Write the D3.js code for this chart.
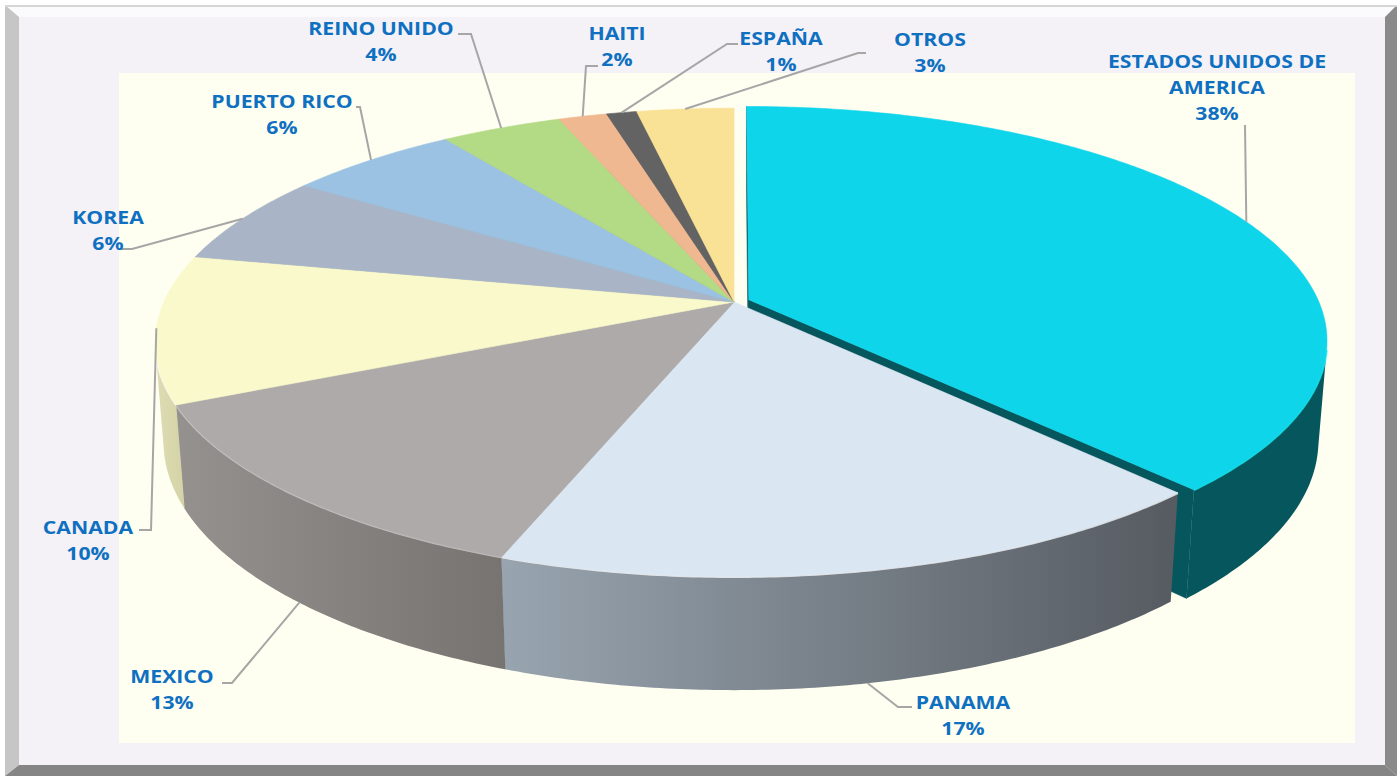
<!DOCTYPE html>
<html>
<head>
<meta charset="utf-8">
<script src="https://cdn.jsdelivr.net/npm/d3@7"></script>
<style>
  html, body { margin: 0; padding: 0; background: #fff; }
  svg { display: block; }
  .lbl { font-family: "Open Sans", sans-serif; font-weight: 700; font-size: 18px; fill: #0f70c1; }
</style>
</head>
<body>
<div id="chart"></div>
<script>
// DATA
const countries = ["ESTADOS UNIDOS DE AMERICA", "PANAMA", "MEXICO", "CANADA", "KOREA",
                   "PUERTO RICO", "REINO UNIDO", "HAITI", "ESPAÑA", "OTROS"];
const shares = [38.1, 17.45, 12.55, 10.2, 6.2, 5.7, 4.0, 1.6, 1.0, 3.2];

// STYLES
const topColors = ["#0fd5eb", "#dae6f2", "#aeaaa9", "#f9f9cc", "#a9b5c6",
                   "#9bc2e3", "#b3da84", "#f0b890", "#636363", "#f9e196"];
const sideColors = [["#06565d", "#06565d"], ["#98a4af", "#565b61"], ["#95918f", "#777371"],
                    ["#dedcb3", "#d4d2a6"], ["#8b95a5", "#7a8494"], ["#7fa3c2", "#6f93b2"],
                    ["#93b96a", "#83a95a"], ["#cf9a74", "#bf8a64"], ["#4a4a4a", "#3a3a3a"],
                    ["#d8c07a", "#c8b06a"]];

// label placement (text centre / first baseline, leader elbow and end)
const labelLayout = [
  {x: 1217, y: 68,  ex: 1245, ey: 125, hx: 1245},
  {x: 963,  y: 709, ex: 898,  ey: 707, hx: 912},
  {x: 172,  y: 683, ex: 232,  ey: 683, hx: 222},
  {x: 88,   y: 534, ex: 151,  ey: 530, hx: 139},
  {x: 108,  y: 224, ex: 132,  ey: 249, hx: 121},
  {x: 282,  y: 108, ex: 360,  ey: 107, hx: 356},
  {x: 381,  y: 35,  ex: 471,  ey: 34,  hx: 458},
  {x: 617,  y: 40,  ex: 586,  ey: 66,  hx: 598},
  {x: 781,  y: 45,  ex: 727,  ey: 44,  hx: 738},
  {x: 930,  y: 46,  ex: 858,  ey: 53,  hx: 866}
];

const svgWidth = 1400, svgHeight = 776;

// 3D view of the pie (radius = 1 in world units)
const view = {cx: 734, cy: 302, dist: 5.31, tilt: 23.5 * Math.PI / 180, focal: 3027, depth: 0.19, explode: 0.028};
const ct = Math.cos(view.tilt), st = Math.sin(view.tilt);
const cam = [0, view.dist * st, view.dist * ct];

function project(X, Y, Z) {
  const u = Y * ct - Z * st;
  const d = view.dist - (Z * ct + Y * st);
  return [view.cx + view.focal * X / d, view.cy - view.focal * u / d];
}

const svg = d3.select("#chart")
  .append("svg")
  .attr("width", svgWidth)
  .attr("height", svgHeight);

const defs = svg.append("defs");

// Frame
const fo = {l: 5, t: 5, r: 1397, b: 776};
const fi = {l: 19, t: 17, r: 1385, b: 765};
const poly = pts => pts.map(p => p.join(",")).join(" ");

svg.append("polygon").attr("points", poly([[fo.l, fo.t], [fo.r, fo.t], [fi.r, fi.t], [fi.l, fi.t]])).attr("fill", "#fbfafc");
svg.append("polygon").attr("points", poly([[fo.l, fo.t], [fi.l, fi.t], [fi.l, fi.b], [fo.l, fo.b]])).attr("fill", "#c6c6c6");
svg.append("polygon").attr("points", poly([[fo.r, fo.t], [fo.r, fo.b], [fi.r, fi.b], [fi.r, fi.t]])).attr("fill", "#8a8a8a");
svg.append("polygon").attr("points", poly([[fo.l, fo.b], [fi.l, fi.b], [fi.r, fi.b], [fo.r, fo.b]])).attr("fill", "#858585");
svg.append("line").attr("x1", fo.l).attr("x2", fo.r).attr("y1", 6).attr("y2", 6)
  .attr("stroke", "#d6d6d6").attr("stroke-width", 2);
svg.append("rect").attr("x", fi.l).attr("y", fi.t).attr("width", fi.r - fi.l).attr("height", fi.b - fi.t).attr("fill", "#f4f2f6");

// Plot area
svg.append("rect").attr("x", 119).attr("y", 73).attr("width", 1236).attr("height", 670).attr("fill", "#fefef1");

// Pie geometry
const pie = d3.pie().sort(null).value(d => d);
const arcs = pie(shares);
const total = d3.sum(shares);
const pct = d3.format(".0%");
const line = d3.line();

const slices = arcs.map((a, i) => {
  const mid = (a.startAngle + a.endAngle) / 2;
  const e = i === 0 ? view.explode : 0;
  return {i, a0: a.startAngle, a1: a.endAngle, mid, ox: e * Math.sin(mid), oz: -e * Math.cos(mid)};
});

const rim = (s, a, Y) => project(s.ox + Math.sin(a), Y, s.oz - Math.cos(a));
const centre = (s, Y) => project(s.ox, Y, s.oz);

function arcAngles(a0, a1) {
  const n = Math.max(2, Math.ceil((a1 - a0) / 0.01));
  return d3.range(n + 1).map(k => a0 + (a1 - a0) * k / n);
}

function sideVisible(s, a) {
  const P = [s.ox + Math.sin(a), 0, s.oz - Math.cos(a)];
  const N = [Math.sin(a), 0, -Math.cos(a)];
  return N[0] * (cam[0] - P[0]) + N[2] * (cam[2] - P[2]) > 0;
}

function wallVisible(s, N) {
  return N[0] * (cam[0] - s.ox) + N[1] * cam[1] + N[2] * (cam[2] - s.oz) > 0;
}

const pieGroup = svg.append("g");

// Sides and walls, back to front
const sideOrder = slices.slice().sort((p, q) => (-Math.cos(p.mid)) - (-Math.cos(q.mid)));
sideOrder.forEach(s => {
  const [c0, c1] = sideColors[s.i];
  const gid = "side" + s.i;
  const g = defs.append("linearGradient").attr("id", gid).attr("x1", 0).attr("x2", 1).attr("y1", 0).attr("y2", 0);
  g.append("stop").attr("offset", "0%").attr("stop-color", c0);
  g.append("stop").attr("offset", "100%").attr("stop-color", c1);

  const H = -view.depth;
  // walls
  const nStart = [-Math.cos(s.a0), 0, -Math.sin(s.a0)];
  const nEnd = [Math.cos(s.a1), 0, Math.sin(s.a1)];
  [[s.a0, nStart], [s.a1, nEnd]].forEach(([a, N]) => {
    if (!wallVisible(s, N)) return;
    pieGroup.append("path")
      .attr("d", line([centre(s, 0), rim(s, a, 0), rim(s, a, H), centre(s, H)]) + "Z")
      .attr("fill", c1).attr("stroke", c1).attr("stroke-width", 0.5);
  });

  // curved outer side, split into visible runs
  const angs = arcAngles(s.a0, s.a1);
  let run = [];
  const runs = [];
  for (let k = 0; k < angs.length - 1; k++) {
    if (sideVisible(s, (angs[k] + angs[k + 1]) / 2)) {
      if (!run.length) run.push(angs[k]);
      run.push(angs[k + 1]);
    } else if (run.length) { runs.push(run); run = []; }
  }
  if (run.length) runs.push(run);
  runs.forEach(r => {
    const pts = r.map(a => rim(s, a, 0)).concat(r.slice().reverse().map(a => rim(s, a, H)));
    pieGroup.append("path")
      .attr("d", line(pts) + "Z")
      .attr("fill", `url(#${gid})`);
    // bevel highlight along the top rim
    pieGroup.append("path")
      .attr("d", line(r.map(a => rim(s, a, 0))))
      .attr("fill", "none")
      .attr("stroke", d3.color(topColors[s.i]).brighter(0.6))
      .attr("stroke-opacity", 0.75)
      .attr("stroke-width", 2.5);
  });
});

// Top faces
slices.forEach(s => {
  const pts = [centre(s, 0)].concat(arcAngles(s.a0, s.a1).map(a => rim(s, a, 0)));
  pieGroup.append("path")
    .attr("d", line(pts) + "Z")
    .attr("fill", topColors[s.i])
    .attr("stroke", topColors[s.i])
    .attr("stroke-width", 0.6)
    .attr("stroke-linejoin", "round");
});

// Leader lines and labels
const labelGroup = svg.append("g");
slices.forEach(s => {
  const L = labelLayout[s.i];
  const front = -Math.cos(s.mid) > 0.3;
  const start = rim(s, s.mid, front ? -view.depth : 0);
  labelGroup.append("path")
    .attr("d", line([start, [L.ex, L.ey], [L.hx, L.ey]]))
    .attr("fill", "none")
    .attr("stroke", "#a6a6a6")
    .attr("stroke-width", 2);

  const name = countries[s.i];
  let lines = [name];
  if (name.length > 18) {
    const cut = name.lastIndexOf(" ");
    lines = [name.slice(0, cut), name.slice(cut + 1)];
  }
  lines.push(pct(shares[s.i] / total));
  lines.forEach((t, k) => {
    labelGroup.append("text")
      .attr("class", "lbl")
      .attr("text-anchor", "middle")
      .attr("transform", `translate(${L.x},${L.y + k * 26}) scale(1.18,1)`)
      .text(t);
  });
});
</script>
</body>
</html>
